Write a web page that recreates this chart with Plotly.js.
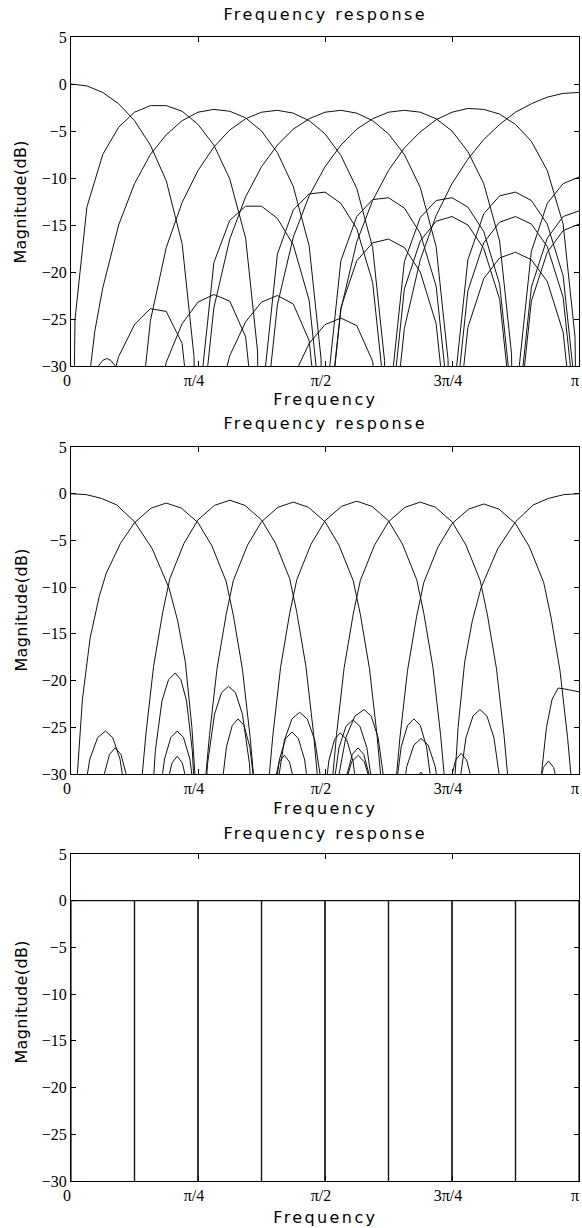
<!DOCTYPE html>
<html>
<head>
<meta charset="utf-8">
<script src="https://cdn.plot.ly/plotly-3.0.1.min.js"></script>
<style>
  html, body { margin: 0; padding: 0; background: #fff; }
  #chart { width: 582px; height: 1228px; }
  g.annotation text { letter-spacing: 2.4px; }
  g.annotation[data-index="6"] text,
  g.annotation[data-index="7"] text,
  g.annotation[data-index="8"] text { letter-spacing: 0.4px; }
</style>
</head>
<body>
<div id="chart"></div>
<script>
// ---------------- DATA ----------------
// Axis ticks
const freqTickVals = [0, 0.25, 0.5, 0.75, 1];
const freqTickText = ['0', 'π/4', 'π/2', '3π/4', 'π'];
const magTickVals = [-30, -25, -20, -15, -10, -5, 0, 5];
const magTickText = ['−30', '−25', '−20', '−15', '−10', '−5', '0', '5'];

// Panel 1: 8-band filter bank, points as [frequency bin (units of π/32), magnitude dB]
// (-60 marks a null, i.e. -∞ dB, far below the visible range)
const bank1_0 = [[0,0],[1,-0.2],[2,-0.9],[3,-2.1],[4,-3.9],[5,-6.5],[6,-10.3],[7,-17.0],[7.75,-29.0],[8,-60],[8.25,-31.0],[9,-19.0],[10,-14.5],[11,-13.0],[12,-13.0],[13,-14.3],[14,-17.1],[15,-23.0],[15.75,-35.0],[16,-60],[16.25,-35.8],[17,-23.8],[18,-18.8],[19,-16.9],[20,-16.5],[21,-17.4],[22,-20.0],[23,-25.5],[23.75,-37.5],[24,-60],[24.25,-37.9],[25,-25.9],[26,-20.7],[27,-18.5],[28,-17.9],[29,-18.7],[30,-21.0],[31,-26.4],[31.75,-38.4],[32,-60]];
const bank1_1 = [[0,-60],[0.25,-25.1],[1,-13.1],[2,-7.5],[3,-4.6],[4,-3.0],[5,-2.3],[6,-2.3],[7,-2.9],[8,-4.3],[9,-6.5],[10,-10.1],[11,-16.4],[11.75,-28.4],[12,-60],[12.25,-30.1],[13,-18.1],[14,-13.4],[15,-11.7],[16,-11.5],[17,-12.7],[18,-15.4],[19,-21.1],[19.75,-33.1],[20,-60],[20.25,-33.8],[21,-21.8],[22,-16.7],[23,-14.6],[24,-14.1],[25,-15.0],[26,-17.5],[27,-22.9],[27.75,-34.9],[28,-60],[28.25,-35.1],[29,-23.1],[30,-17.9],[31,-15.6],[32,-14.9]];
const bank1_2 = [[0,-60],[1,-33.4],[1.5,-26.3],[2,-21.7],[3,-15.0],[4,-10.6],[5,-7.5],[6,-5.4],[7,-3.9],[8,-3.0],[9,-2.7],[10,-2.9],[11,-3.6],[12,-5.0],[13,-7.3],[14,-10.9],[15,-17.2],[15.75,-29.2],[16,-60],[16.25,-30.8],[17,-18.8],[18,-14.1],[19,-12.3],[20,-12.1],[21,-13.2],[22,-15.9],[23,-21.5],[23.75,-33.5],[24,-60],[24.25,-34.0],[25,-22.0],[26,-16.9],[27,-14.7],[28,-14.1],[29,-14.9],[30,-17.3],[31,-22.7],[31.75,-34.7],[32,-60]];
const bank1_3 = [[0,-60],[1,-33.3],[1.5,-30.5],[2,-29.4],[2.25,-29.2],[2.5,-29.4],[2.75,-29.9],[3,-30.8],[4,-60],[4.25,-37.2],[5,-25.2],[6,-17.4],[7,-12.6],[8,-9.2],[9,-6.7],[10,-4.9],[11,-3.7],[12,-3.0],[13,-2.8],[14,-3.1],[15,-3.9],[16,-5.3],[17,-7.6],[18,-11.1],[19,-17.4],[19.75,-29.4],[20,-60],[20.25,-30.9],[21,-18.9],[22,-14.2],[23,-12.4],[24,-12.1],[25,-13.1],[26,-15.7],[27,-21.3],[27.75,-33.3],[28,-60],[28.25,-33.6],[29,-21.6],[30,-16.4],[31,-14.1],[32,-13.5]];
const bank1_4 = [[0,-60],[1,-46.5],[2,-35.1],[3,-29.0],[4,-25.6],[5,-23.9],[6,-24.2],[7,-27.6],[7.75,-39.6],[8,-60],[8.25,-35.8],[9,-23.8],[10,-16.5],[11,-12.0],[12,-8.8],[13,-6.5],[14,-4.8],[15,-3.7],[16,-3.0],[17,-2.8],[18,-3.1],[19,-3.9],[20,-5.3],[21,-7.5],[22,-11.0],[23,-17.3],[23.75,-29.3],[24,-60],[24.25,-30.7],[25,-18.7],[26,-13.8],[27,-11.9],[28,-11.5],[29,-12.4],[30,-14.9],[31,-20.4],[31.75,-32.4],[32,-60]];
const bank1_5 = [[0,-60],[1,-43.8],[2,-40.0],[3,-41.7],[4,-60],[5,-36.8],[6,-29.6],[7,-25.5],[8,-23.2],[9,-22.4],[10,-23.1],[11,-26.9],[11.75,-38.9],[12,-60],[12.25,-35.5],[13,-23.5],[14,-16.3],[15,-11.9],[16,-8.8],[17,-6.5],[18,-4.8],[19,-3.7],[20,-3.0],[21,-2.8],[22,-3.0],[23,-3.7],[24,-5.0],[25,-7.2],[26,-10.6],[27,-16.7],[27.75,-28.7],[28,-60],[28.25,-29.8],[29,-17.8],[30,-12.7],[31,-10.6],[32,-9.9]];
const bank1_6 = [[0,-60],[1,-56.5],[2,-45.1],[3,-39.2],[4,-35.8],[5,-34.4],[6,-34.9],[7,-38.6],[8,-60],[9,-35.7],[10,-28.9],[11,-25.3],[12,-23.2],[13,-22.5],[14,-23.4],[15,-27.3],[15.75,-39.3],[16,-60],[16.25,-36.0],[17,-24.0],[18,-16.8],[19,-12.4],[20,-9.2],[21,-6.8],[22,-5.1],[23,-3.8],[24,-3.0],[25,-2.6],[26,-2.7],[27,-3.2],[28,-4.3],[29,-6.1],[30,-9.2],[31,-14.9],[31.75,-26.9],[32,-60]];
const bank1_7 = [[0,-60],[1,-55.7],[2,-52.0],[3,-53.7],[4,-60],[5,-49.0],[6,-41.9],[7,-38.0],[8,-35.8],[9,-35.2],[10,-36.2],[11,-40.2],[12,-60],[13,-37.8],[14,-31.2],[15,-27.6],[16,-25.6],[17,-24.9],[18,-25.7],[19,-29.5],[19.75,-41.5],[20,-60],[20.25,-38.0],[21,-26.0],[22,-18.7],[23,-14.0],[24,-10.6],[25,-8.0],[26,-5.9],[27,-4.3],[28,-3.0],[29,-2.1],[30,-1.4],[31,-1.0],[32,-0.9]];

// Panel 2: 8-band lapped filter bank, points as [frequency (units of π), magnitude dB]
const bank2_0 = [[0,0],[0.03,-0.1],[0.06,-0.5],[0.09,-1.2],[0.125,-3.0],[0.16,-5.9],[0.193,-10.1],[0.21,-13.6],[0.225,-18.0],[0.238,-25.0],[0.245,-31.0],[0.25,-60],
  [0.255,-60],[0.2616,-34.8],[0.2688,-28.9],[0.2825,-23.6],[0.2963,-21.3],[0.31,-20.6],[0.3238,-21.3],[0.3375,-23.6],[0.3513,-28.9],[0.3584,-34.8],[0.365,-60],
  [0.39,-60],[0.405,-31.7],[0.42,-26.4],[0.435,-24.1],[0.45,-23.4],[0.465,-24.1],[0.48,-26.4],[0.495,-31.7],[0.51,-60],
  [0.515,-60],[0.5275,-36.3],[0.54,-31.0],[0.5525,-28.7],[0.565,-28.0],[0.5775,-28.7],[0.59,-31.0],[0.6025,-36.3],[0.615,-60],
  [0.625,-60],[0.6375,-32.4],[0.65,-27.1],[0.6625,-24.8],[0.675,-24.1],[0.6875,-24.8],[0.70,-27.1],[0.7125,-32.4],[0.725,-60],
  [0.7358,-36.1],[0.7465,-30.8],[0.7573,-28.5],[0.768,-27.8],[0.7788,-28.5],[0.7895,-30.8],[0.8003,-36.1],[0.811,-60],
  [0.915,-60],[0.92,-36.0],[0.927,-29.5],[0.936,-25.0],[0.947,-22.0],[0.959,-20.8],[0.972,-20.9],[0.986,-21.05],[1.0,-21.2]];
const bank2_1 = [[0,-60],[0.0125,-30.0],[0.0225,-22.0],[0.0375,-15.5],[0.0555,-11.0],[0.0695,-8.5],[0.0975,-5.3],[0.125,-3.1],[0.1575,-1.55],[0.1875,-1.0],[0.2175,-1.55],[0.25,-3.1],[0.2775,-5.6],[0.3055,-9.4],[0.3195,-13.0],[0.3375,-18.8],[0.3525,-26.0],[0.3625,-32.0],[0.375,-60],
  [0.385,-60],[0.3975,-33.8],[0.41,-28.5],[0.4225,-26.2],[0.435,-25.5],[0.4475,-26.2],[0.46,-28.5],[0.4725,-33.8],[0.485,-60],
  [0.4963,-33.9],[0.5075,-28.6],[0.5188,-26.3],[0.53,-25.6],[0.5425,-26.3],[0.555,-28.6],[0.5675,-33.9],[0.58,-60],
  [0.75,-60],[0.7638,-31.4],[0.7775,-26.1],[0.7913,-23.8],[0.805,-23.1],[0.8188,-23.8],[0.8325,-26.1],[0.8463,-31.4],[0.86,-60],
  [0.90,-60],[0.91,-36.9],[0.92,-31.6],[0.93,-29.3],[0.94,-28.6],[0.95,-29.3],[0.96,-31.6],[0.97,-36.9],[0.98,-60],[1.0,-45]];
const bank2_2 = [[0,-60],[0.0215,-33.7],[0.037,-28.4],[0.0525,-26.1],[0.068,-25.4],[0.082,-26.1],[0.0965,-28.4],[0.111,-33.7],[0.125,-60],
  [0.1375,-31.7],[0.1475,-25.7],[0.1625,-18.5],[0.1805,-12.7],[0.1945,-9.1],[0.2225,-5.3],[0.25,-2.8],[0.2825,-1.25],[0.3125,-0.7],[0.3425,-1.25],[0.375,-2.8],[0.4025,-5.3],[0.4305,-9.1],[0.4445,-12.7],[0.4625,-18.5],[0.4775,-25.7],[0.4875,-31.7],[0.5,-60],
  [0.505,-60],[0.523,-31.4],[0.541,-26.1],[0.559,-23.8],[0.577,-23.1],[0.591,-23.8],[0.6045,-26.1],[0.618,-31.4],[0.632,-60],
  [0.647,-34.5],[0.661,-29.2],[0.675,-26.9],[0.689,-26.2],[0.703,-26.9],[0.717,-29.2],[0.731,-34.5],[0.745,-60],[1.0,-50]];
const bank2_3 = [[0,-60],[0.042,-60],[0.0533,-35.5],[0.0645,-30.2],[0.0758,-27.9],[0.087,-27.2],[0.0983,-27.9],[0.1095,-30.2],[0.1208,-35.5],[0.132,-60],
  [0.153,-60],[0.1592,-33.4],[0.166,-27.5],[0.179,-22.2],[0.192,-19.9],[0.205,-19.2],[0.2163,-19.9],[0.2275,-22.2],[0.2388,-27.5],[0.2446,-33.4],[0.25,-60],
  [0.2625,-31.9],[0.2725,-25.9],[0.2875,-18.7],[0.3055,-12.9],[0.3195,-9.3],[0.3475,-5.5],[0.375,-3.0],[0.4075,-1.45],[0.4375,-0.9],[0.4675,-1.45],[0.5,-3.0],[0.5275,-5.5],[0.5555,-9.3],[0.5695,-12.9],[0.5875,-18.7],[0.6025,-25.9],[0.6125,-31.9],[0.625,-60],
  [0.649,-60],[0.659,-38.1],[0.669,-32.8],[0.679,-30.5],[0.689,-29.8],[0.699,-30.5],[0.709,-32.8],[0.719,-38.1],[0.729,-60],[1.0,-50]];
const bank2_4 = [[0,-60],[0.159,-60],[0.1715,-33.7],[0.184,-28.4],[0.1965,-26.1],[0.209,-25.4],[0.2215,-26.1],[0.234,-28.4],[0.2465,-33.7],[0.259,-60],
  [0.283,-60],[0.2945,-32.4],[0.306,-27.1],[0.3175,-24.8],[0.329,-24.1],[0.3405,-24.8],[0.352,-27.1],[0.3635,-32.4],[0.375,-60],
  [0.3875,-31.8],[0.3975,-25.8],[0.4125,-18.6],[0.4305,-12.8],[0.4445,-9.2],[0.4725,-5.4],[0.5,-2.9],[0.5325,-1.35],[0.5625,-0.8],[0.5925,-1.35],[0.625,-2.9],[0.6525,-5.4],[0.6805,-9.2],[0.6945,-12.8],[0.7125,-18.6],[0.7275,-25.8],[0.7375,-31.8],[0.75,-60],[1.0,-50]];
const bank2_5 = [[0,-60],[0.169,-60],[0.179,-36.4],[0.189,-31.1],[0.199,-28.8],[0.209,-28.1],[0.219,-28.8],[0.229,-31.1],[0.239,-36.4],[0.249,-60],
  [0.38,-60],[0.39,-36.3],[0.40,-31.0],[0.41,-28.7],[0.42,-28.0],[0.43,-28.7],[0.44,-31.0],[0.45,-36.3],[0.46,-60],
  [0.5,-60],[0.5125,-31.9],[0.5225,-25.9],[0.5375,-18.7],[0.5555,-12.9],[0.5695,-9.3],[0.5975,-5.5],[0.625,-3.0],[0.6575,-1.45],[0.6875,-0.9],[0.7175,-1.45],[0.75,-3.0],[0.7775,-5.5],[0.8055,-9.3],[0.8195,-12.9],[0.8375,-18.7],[0.8525,-25.9],[0.8625,-31.9],[0.875,-60],[1.0,-50]];
const bank2_6 = [[0,-60],[0.50,-60],[0.5138,-32.5],[0.5275,-27.2],[0.5413,-24.9],[0.555,-24.2],[0.5688,-24.9],[0.5825,-27.2],[0.5963,-32.5],[0.61,-60],
  [0.625,-60],[0.6375,-32.1],[0.6475,-26.1],[0.6625,-18.9],[0.6805,-13.1],[0.6945,-9.5],[0.7225,-5.7],[0.75,-3.2],[0.7825,-1.65],[0.8125,-1.1],[0.8425,-1.65],[0.875,-3.2],[0.9025,-5.7],[0.9305,-9.5],[0.9445,-13.1],[0.9625,-18.9],[0.9775,-26.1],[0.9875,-32.1],[1.0,-60]];
const bank2_7 = [[0,-60],[0.52,-60],[0.5313,-35.5],[0.5425,-30.2],[0.5538,-27.9],[0.565,-27.2],[0.5763,-27.9],[0.5875,-30.2],[0.5988,-35.5],[0.61,-60],
  [0.75,-60],[0.755,-31.0],[0.762,-25.0],[0.775,-18.0],[0.79,-13.6],[0.807,-10.1],[0.84,-5.9],[0.875,-3.0],[0.91,-1.2],[0.94,-0.5],[0.97,-0.1],[1.0,0]];

// Panel 3: ideal 8-band filter bank
const bandEdges = [0, 0.125, 0.25, 0.375, 0.5, 0.625, 0.75, 0.875, 1];
const passGainDb = 0;
const stopGainDb = -100;   // stands for -∞ dB (clipped by the axis)

// ---------------- BUILD ----------------
const W = 582, H = 1228;
const fx = v => v / W;
const fy = v => 1 - v / H;
const X_DOM = [fx(71), fx(579)];
const Y_DOMS = [[fy(366), fy(37)], [fy(774), fy(447)], [fy(1181), fy(854)]];

const LINE = { color: '#111', width: 1 };
const traces = [];

[bank1_0, bank1_1, bank1_2, bank1_3, bank1_4, bank1_5, bank1_6, bank1_7].forEach(pts => {
  traces.push({ type: 'scatter', mode: 'lines', xaxis: 'x', yaxis: 'y',
    x: pts.map(p => p[0] / 32), y: pts.map(p => p[1]), line: LINE, hoverinfo: 'skip' });
});
[bank2_0, bank2_1, bank2_2, bank2_3, bank2_4, bank2_5, bank2_6, bank2_7].forEach(pts => {
  traces.push({ type: 'scatter', mode: 'lines', xaxis: 'x2', yaxis: 'y2',
    x: pts.map(p => p[0]), y: pts.map(p => p[1]), line: LINE, hoverinfo: 'skip' });
});
for (let k = 0; k < bandEdges.length - 1; k++) {
  const a = bandEdges[k], b = bandEdges[k + 1];
  traces.push({ type: 'scatter', mode: 'lines', xaxis: 'x3', yaxis: 'y3',
    x: [bandEdges[0], a, a, b, b, bandEdges[bandEdges.length - 1]],
    y: [stopGainDb, stopGainDb, passGainDb, passGainDb, stopGainDb, stopGainDb],
    line: { color: '#111', width: 1.2 }, hoverinfo: 'skip' });
}

const tickFont = { family: 'Liberation Serif', size: 16, color: '#000' };
function xAxis(anchor) {
  return { domain: X_DOM, anchor: anchor, range: [0, 1], tickmode: 'array',
    tickvals: freqTickVals, ticktext: freqTickText, ticks: 'inside', ticklen: 5,
    tickcolor: '#000', tickwidth: 1, showline: true, linecolor: '#000', linewidth: 1,
    mirror: 'ticks', showgrid: false, zeroline: false, tickfont: tickFont, tickangle: 0,
    ticklabelshift: -4, ticklabeloverflow: 'allow', fixedrange: true };
}
function yAxis(anchor, dom) {
  return { domain: dom, anchor: anchor, range: [-30, 5], tickmode: 'array',
    tickvals: magTickVals, ticktext: magTickText, ticks: 'inside', ticklen: 5,
    tickcolor: '#000', tickwidth: 1, showline: true, linecolor: '#000', linewidth: 1,
    mirror: 'ticks', showgrid: false, zeroline: false, tickfont: tickFont,
    ticklabeloverflow: 'allow', fixedrange: true };
}

const sansFont = { family: 'DejaVu Sans', size: 16, color: '#000' };
function label(text, xPix, yPix, angle) {
  return { text: text, xref: 'paper', yref: 'paper', x: fx(xPix), y: fy(yPix),
    xanchor: 'center', yanchor: 'middle', showarrow: false, font: sansFont,
    textangle: angle || 0 };
}
const CX = 325;
const annotations = [
  label('Frequency response', CX, 14),
  label('Frequency response', CX, 424),
  label('Frequency response', CX, 833),
  label('Frequency', CX, 400),
  label('Frequency', CX, 808),
  label('Frequency', CX, 1217),
  label('Magnitude(dB)', 21, 202, -90),
  label('Magnitude(dB)', 21, 610, -90),
  label('Magnitude(dB)', 21, 1002, -90)
];

const layout = {
  width: W, height: H, margin: { l: 0, r: 0, t: 0, b: 0 },
  paper_bgcolor: '#fff', plot_bgcolor: '#fff', showlegend: false,
  xaxis: xAxis('y'), yaxis: yAxis('x', Y_DOMS[0]),
  xaxis2: xAxis('y2'), yaxis2: yAxis('x2', Y_DOMS[1]),
  xaxis3: xAxis('y3'), yaxis3: yAxis('x3', Y_DOMS[2]),
  annotations: annotations
};

Plotly.newPlot('chart', traces, layout, { staticPlot: true, displayModeBar: false });
</script>
</body>
</html>
